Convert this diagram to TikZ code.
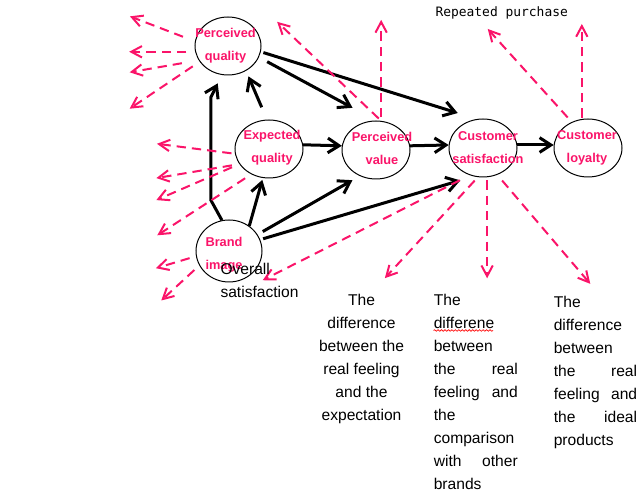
\documentclass[tikz,border=0pt]{standalone}
\usepackage{fontspec}
\setmainfont{Liberation Sans}
\newfontfamily\gothicmono{DejaVu Sans Mono}
\usetikzlibrary{arrows.meta,shapes.geometric,decorations.pathmorphing}
\definecolor{hotpink}{RGB}{250,20,105}

\tikzset{every picture/.style={line width=0.75pt}}

\begin{document}
\begin{tikzpicture}[x=0.75pt,y=0.75pt,yscale=-1,
	bubble/.style={draw,ellipse,minimum width=51pt,minimum height=43.5pt,inner sep=0pt},
	bubtext/.style={text=hotpink,font=\bfseries\fontsize{9.6}{17.25}\selectfont,align=center,inner sep=0pt},
	body/.style={font=\fontsize{11.7}{17.25}\selectfont,inner sep=0pt},
	flow/.style={line width=2.25pt,-{Straight Barb[length=8.5pt,width=11pt]}},
	infl/.style={hotpink,line width=1.5pt,dash pattern=on 7pt off 4.5pt,-{Straight Barb[length=8pt,width=8.5pt]}}]
	\useasboundingbox (0,0) rectangle (644,498);
	
	%Shape: Ellipse
	\draw (228,46) node [bubble,minimum width=49.5pt] (pq) {};
	%Shape: Ellipse
	\draw (269,149) node [bubble] (eq) {};
	%Shape: Ellipse
	\draw (376,150) node [bubble] (pv) {};
	%Shape: Ellipse
	\draw (483,148) node [bubble] (cs) {};
	%Shape: Ellipse
	\draw (588,148) node [bubble] (cl) {};
	%Shape: Ellipse
	\draw (229,251) node [bubble,minimum width=49.5pt,minimum height=46.5pt] (bi) {};
	
	%Straight Lines
	\draw [flow,shorten <=7pt,shorten >=20pt] (pq.-20) -- (pv.north);
	%Straight Lines
	\draw [flow,shorten <=2pt,shorten >=15pt] (pq.-10) -- (cs.102);
	%Straight Lines
	\draw [flow,shorten <=10pt,shorten >=4.5pt] (eq.94) -- (pq.-54);
	%Straight Lines
	\draw [flow] (eq.7) -- (pv.173);
	%Straight Lines
	\draw [flow] (pv.7) -- (cs.175);
	%Straight Lines
	\draw [flow] (cs.5) -- (cl.175);
	%Straight Lines
	\draw [flow,shorten >=7pt] (bi.103) -- ++(-11,-20) -- ++(0,-103) -- (pq.258);
	%Straight Lines
	\draw [flow,shorten >=1.5pt] (bi.51) -- (eq.258);
	%Straight Lines
	\draw [flow,shorten <=4.5pt,shorten >=6.3pt] (bi.30) -- (pv.238);
	%Straight Lines
	\draw [flow,shorten <=2.25pt,shorten >=10.5pt] (bi.20) -- (cs.252);
	
	%Dashed Lines
	\draw [infl,shorten <=9.6pt] (pq.172) -- ++(-65,-25);
	\draw [infl,shorten <=6.5pt] (pq.190) -- ++(-66,0);
	\draw [infl,shorten <=12.8pt] (pq.206) -- ++(-69,12);
	\draw [infl,shorten <=6.2pt] (pq.209) -- ++(-70,47);
	%Dashed Lines
	\draw [infl,shorten <=2.5pt] (pv.80) -- ++(0,-101);
	\draw [infl,shorten <=2.5pt] (pv.80) -- ++(-104,-99);
	%Dashed Lines
	\draw [infl,shorten <=2.6pt] (eq.188) -- ++(-78,-10);
	\draw [infl,shorten <=5.7pt] (eq.207) -- ++(-83,14);
	\draw [infl,shorten <=6pt] (eq.207) -- ++(-83,36);
	\draw [infl,shorten <=5.5pt] (eq.235) -- ++(-94,61);
	%Dashed Lines
	\draw [infl,shorten <=5pt] (bi.189) -- ++(-40,12);
	\draw [infl,shorten <=5pt] (bi.206) -- ++(-38,35);
	%Dashed Lines
	\draw [infl,shorten <=8.3pt] (cs.244) -- ++(-207,105);
	\draw [infl,shorten <=3.5pt] (cs.260) -- ++(-93,101);
	\draw [infl,shorten <=2.3pt] (cs.278) -- ++(0,101);
	\draw [infl,shorten <=5.6pt] (cs.298) -- ++(93,109);
	%Dashed Lines
	\draw [infl,shorten <=1pt] (cl.102) -- ++(0,-95);
	\draw [infl,shorten <=4.5pt] (cl.122) -- ++(-84,-93);
	
	% Text Node
	\draw (225.5,45.7) node [bubtext] (pqtxt) {Perceived\\quality};
	% Text Node
	\draw (272,148) node [bubtext] (eqtxt) {Expected\\quality};
	% Text Node
	\draw (382,148) node [bubtext] (pvtxt) {Perceived\\value};
	% Text Node
	\draw (488,148) node [bubtext] (cstxt) {Customer\\satisfaction};
	% Text Node
	\draw (587,148) node [bubtext] (cltxt) {Customer\\loyalty};
	% Text Node
	\draw (224,254.5) node [bubtext] (bitxt) {Brand\\image};
	% Text Node
	\draw (220,262.5) node [body,anchor=north west,align=left] (overall) {Overall\\satisfaction};
	% Text Node
	\draw (435,17) node [anchor=base west,inner sep=0pt,font=\gothicmono\fontsize{9.7}{12}\selectfont] (repbuy) {Repeated purchase};
	% Text Node
	\draw (361.5,293.8) node [body,anchor=north,align=center] (gapexp) {The\\difference\\between the\\real feeling\\and the\\expectation};
	% Text Node
	\draw (433.3,293.8) node [body,anchor=north west,text width=63pt,align=left] (gapbrand) {The\\differene\\between\\the\hfill real\\feeling\hfill and\\the\\comparison\\with\hfill other\\brands};
	% Text Node
	\draw (553.3,295.3) node [body,anchor=north west,text width=62.5pt,align=left] (gapideal) {The\\difference\\between\\the\hfill real\\feeling\hfill and\\the\hfill ideal\\products};
	
	%Wavy underline
	\draw [red,line width=0.5pt,decorate,decoration={snake,amplitude=0.6pt,segment length=2.6pt}] (433.5,330.5) -- (493,330.5);
	
\end{tikzpicture}
\end{document}
